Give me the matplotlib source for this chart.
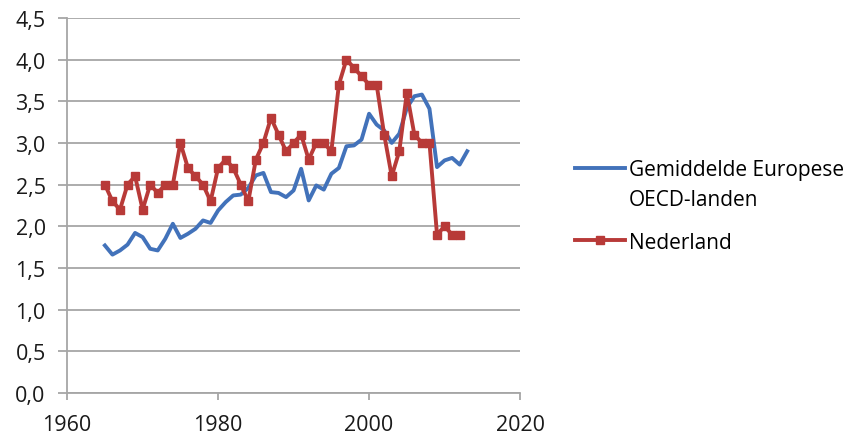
import numpy as np
import matplotlib.pyplot as plt
from matplotlib.ticker import FuncFormatter

plt.rcParams['font.family'] = ['Open Sans', 'DejaVu Sans']

#%% Data
years_eu = list(range(1965, 2014))
eu = [1.77, 1.66, 1.71, 1.78, 1.92, 1.87, 1.73, 1.71, 1.85, 2.03,
      1.86, 1.91, 1.97, 2.07, 2.04, 2.19, 2.29, 2.37, 2.38, 2.46,
      2.61, 2.64, 2.41, 2.40, 2.35, 2.43, 2.69, 2.31, 2.49, 2.44,
      2.63, 2.70, 2.96, 2.97, 3.04, 3.35, 3.22, 3.15, 3.00, 3.11,
      3.42, 3.56, 3.58, 3.41, 2.71, 2.79, 2.82, 2.74, 2.90]

years_nl = list(range(1965, 2013))
nl = [2.5, 2.3, 2.2, 2.5, 2.6, 2.2, 2.5, 2.4, 2.5, 2.5,
      3.0, 2.7, 2.6, 2.5, 2.3, 2.7, 2.8, 2.7, 2.5, 2.3,
      2.8, 3.0, 3.3, 3.1, 2.9, 3.0, 3.1, 2.8, 3.0, 3.0,
      2.9, 3.7, 4.0, 3.9, 3.8, 3.7, 3.7, 3.1, 2.6, 2.9,
      3.6, 3.1, 3.0, 3.0, 1.9, 2.0, 1.9, 1.9]

label_eu = 'Gemiddelde Europese\nOECD-landen'
label_nl = 'Nederland'

#%% Plot
W, H = 861, 439
fig = plt.figure(figsize=(W / 100, H / 100), dpi=100)
ax = fig.add_axes([0.078, 0.1025, 0.526, 0.8545])

ax.plot(years_eu, eu, color='#4272BA', lw=2.8, label=label_eu, zorder=3)
ax.plot(years_nl, nl, color='#B83A38', lw=2.8, marker='s', ms=5.5,
        label=label_nl, zorder=4)

ax.set_xlim(1960, 2020)
ax.set_ylim(0, 4.5)
ax.set_xticks([1960, 1980, 2000, 2020])
ax.set_yticks(np.arange(0, 4.51, 0.5))
ax.yaxis.set_major_formatter(FuncFormatter(lambda v, p: f'{v:.1f}'.replace('.', ',')))

ax.grid(axis='y', color='#A6A6A6', lw=1.3)
ax.set_axisbelow(True)
for s in ['top', 'right']:
    ax.spines[s].set_visible(False)
for s in ['left', 'bottom']:
    ax.spines[s].set_color('#A6A6A6')
    ax.spines[s].set_linewidth(1.3)
ax.tick_params(colors='#A6A6A6', labelcolor='#1A1A1A', labelsize=15.5,
               width=1.3)
ax.tick_params(axis='y', length=6.5, pad=9)
ax.tick_params(axis='x', length=5, pad=10)

# legend, handle lined up with the first text line like in Excel
leg = fig.legend(loc='upper left', bbox_to_anchor=(575 / W, 1 - 160 / H),
                 frameon=False, fontsize=15, handlelength=2.4,
                 handletextpad=0.2, labelspacing=1.05, borderpad=0,
                 borderaxespad=0)
leg.get_texts()[0].set_linespacing(1.55)
l0 = leg.get_lines()[0]
l0.set_ydata(np.asarray(l0.get_ydata()) + 12)

fig.savefig('out.png', dpi=100)
